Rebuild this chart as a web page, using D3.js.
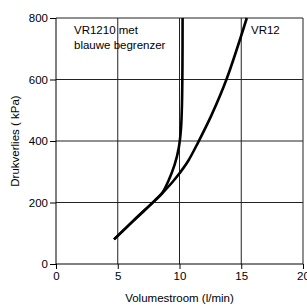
<!DOCTYPE html>
<html><head><meta charset="utf-8">
<script src="https://cdn.jsdelivr.net/npm/d3@7"></script>
<style>body{margin:0;background:#fff}svg{display:block}text{font-family:"Liberation Sans",Arial,sans-serif;fill:#000}</style>
</head><body>
<script>
const xTicks = [0, 5, 10, 15, 20];
const yTicks = [0, 200, 400, 600, 800];
const vr1210Flow = [4.7, 6.3, 8.0, 8.6, 9.1, 9.6, 9.95, 10.12, 10.2, 10.24, 10.25];
const vr1210Drop = [80, 142, 206, 231, 270, 322, 380, 440, 520, 650, 800];
const vr12Flow = [4.7, 6.3, 8.0, 8.6, 9.4, 10.0, 10.7, 11.5, 12.6, 13.8, 15.45];
const vr12Drop = [80, 142, 206, 230, 265, 295, 335, 395, 485, 600, 800];
const labels = ["VR1210 met", "blauwe begrenzer", "VR12"];
const xTitle = "Volumestroom (l/min)";
const yTitle = "Drukverlies ( kPa)";

const W = 307, H = 307;
const m = {left: 56, right: 4, top: 18, bottom: 43};
const svg = d3.select("body").append("svg").attr("width", W).attr("height", H);
const x = d3.scaleLinear().domain([0, 20]).range([m.left, W - m.right]);
const y = d3.scaleLinear().domain([0, 800]).range([H - m.bottom, m.top]);

// grid
svg.append("g").selectAll("line").data(xTicks.slice(1)).join("line")
  .attr("x1", d => x(d)).attr("x2", d => x(d)).attr("y1", y(0)).attr("y2", y(800))
  .attr("stroke", "#222").attr("stroke-width", 1);
svg.append("g").selectAll("line").data(yTicks.slice(1)).join("line")
  .attr("x1", x(0)).attr("x2", x(20)).attr("y1", d => y(d)).attr("y2", d => y(d))
  .attr("stroke", "#222").attr("stroke-width", 1);

const xa = svg.append("g").attr("transform", `translate(0,${y(0)})`)
  .call(d3.axisBottom(x).tickValues(xTicks).tickSize(5).tickPadding(3));
const ya = svg.append("g").attr("transform", `translate(${x(0)},0)`)
  .call(d3.axisLeft(y).tickValues(yTicks).tickSize(6).tickPadding(2));
[xa, ya].forEach(a => {
  a.select(".domain").remove();
  a.selectAll("line").attr("stroke", "#000");
  a.selectAll("text").style("font-size", "11.5px").attr("fill", "#000");
});
svg.append("line").attr("x1", x(0)).attr("x2", x(0)).attr("y1", y(0)).attr("y2", y(800)).attr("stroke", "#000");
svg.append("line").attr("x1", x(0)).attr("x2", x(20)).attr("y1", y(0)).attr("y2", y(0)).attr("stroke", "#000");

const line = d3.line().x(d => x(d[0])).y(d => y(d[1])).curve(d3.curveCatmullRom.alpha(0.5));
const s1 = vr1210Flow.map((v, i) => [v, vr1210Drop[i]]);
const s2 = vr12Flow.map((v, i) => [v, vr12Drop[i]]);
[s1, s2].forEach(s => svg.append("path").attr("d", line(s))
  .attr("fill", "none").attr("stroke", "#000").attr("stroke-width", 2.6));

svg.append("text").attr("x", 74).attr("y", 34).style("font-size", "11.5px").text(labels[0]);
svg.append("text").attr("x", 74).attr("y", 49).style("font-size", "11.5px").text(labels[1]);
svg.append("text").attr("x", 251).attr("y", 34).style("font-size", "11.5px").text(labels[2]);

svg.append("text").attr("x", (x(0) + x(20)) / 2).attr("y", 302).attr("text-anchor", "middle")
  .style("font-size", "11.5px").text(xTitle);
svg.append("text").attr("transform", `translate(19,${(y(0) + y(800)) / 2}) rotate(-90)`)
  .attr("text-anchor", "middle").style("font-size", "11.5px").text(yTitle);
</script>
</body></html>
